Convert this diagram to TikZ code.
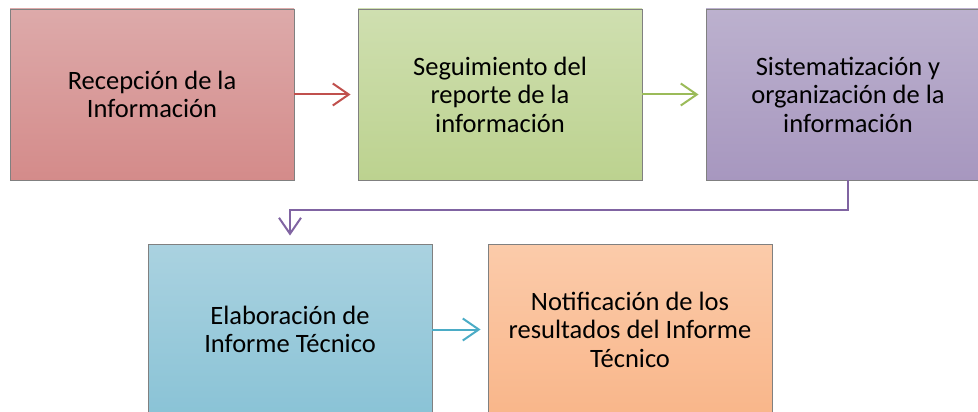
\documentclass[tikz,border=0pt]{standalone}
\usepackage{fontspec}
\setmainfont{Carlito}
\usetikzlibrary{arrows.meta}
\definecolor{r1}{HTML}{DDAAAA}
\definecolor{r2}{HTML}{D48B8A}
\definecolor{g1}{HTML}{CFDFB0}
\definecolor{g2}{HTML}{BCD28F}
\definecolor{p1}{HTML}{BCB1CE}
\definecolor{p2}{HTML}{A797BF}
\definecolor{b1}{HTML}{AAD2E0}
\definecolor{b2}{HTML}{8AC3D6}
\definecolor{o1}{HTML}{FBCBAA}
\definecolor{o2}{HTML}{F9B68A}
\definecolor{ra}{HTML}{C0504D}
\definecolor{ga}{HTML}{9BBB59}
\definecolor{pa}{HTML}{8064A2}
\definecolor{ba}{HTML}{4BACC6}
\definecolor{bord}{HTML}{808080}
\tikzset{
  stepbox/.style={draw=bord, line width=0.9pt, minimum width=284pt, minimum height=171pt,
    align=center, inner sep=0pt, font=\fontsize{26.5}{28.5}\selectfont},
  flow/.style={line width=2pt, -{Straight Barb[length=16pt,width=22pt]}, shorten >=7pt}
}
\begin{document}
\begin{tikzpicture}[x=1pt,y=-1pt]
\useasboundingbox (0,0) rectangle (978,412);
\clip (0,0) rectangle (978,412);
\node[stepbox, top color=r1, bottom color=r2] (b1) at (152,94.5) {Recepción de la\\Información};
\node[stepbox, top color=g1, bottom color=g2] (b2) at (500,94.5) {Seguimiento del\\reporte de la\\información};
\node[stepbox, top color=p1, bottom color=p2] (b3) at (848,94.5) {Sistematización y\\organización de la\\información};
\node[stepbox, top color=b1, bottom color=b2] (b4) at (290,329.5) {Elaboración de\\Informe Técnico};
\node[stepbox, top color=o1, bottom color=o2] (b5) at (630,329.5) {Notificación de los\\resultados del Informe\\Técnico};
\draw[flow, ra] (b1.east) -- (b2.west);
\draw[flow, ga] (b2.east) -- (b3.west);
\draw[flow, pa, shorten >=8pt] (b3.south) -- ++(0,30) -| (b4.north);
\draw[flow, ba] (b4.east) -- (b5.west);
\end{tikzpicture}
\end{document}
